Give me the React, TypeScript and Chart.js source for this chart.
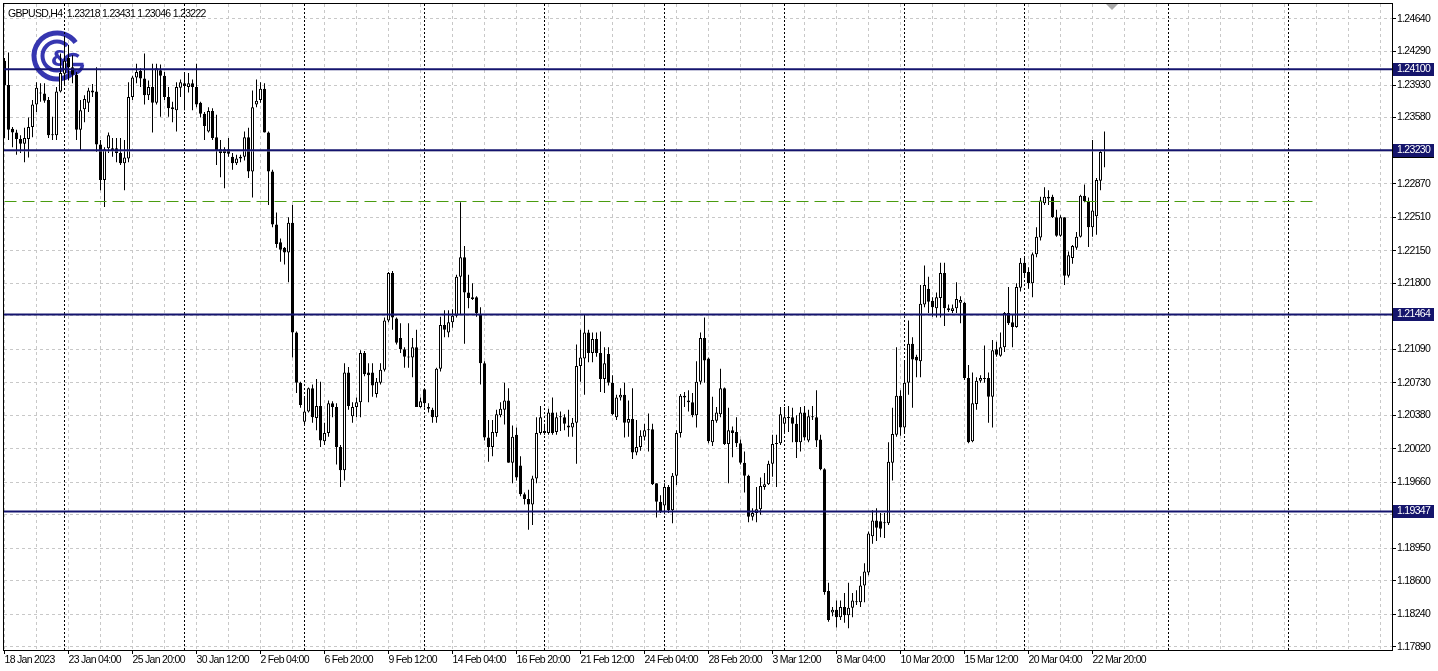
import React, { useEffect, useRef } from "react";
import { Chart, registerables } from "chart.js";

Chart.register(...registerables);

const W = 1438;
const H = 671;
const FONT = '"Liberation Sans", Arial, sans-serif';
const FONT_SIZE = 10.5;
const LETTER_SPACING = "-0.7px";

const headerText = "GBPUSD,H4  1.23218 1.23431 1.23046 1.23222";

const opens = [
1.2419,1.2393,1.2346,1.2342,1.2335,1.2330,1.2335,1.2348,1.2372,1.2385,
1.2384,1.2377,1.2340,1.2339,1.2386,1.2405,1.2422,1.2412,1.2404,1.2345,
1.2367,1.2374,1.2387,1.2386,1.2329,1.2291,1.2325,1.2325,1.2325,1.2320,
1.2309,1.2314,1.2380,1.2401,1.2408,1.2400,1.2382,1.2391,1.2374,1.2409,
1.2403,1.2380,1.2369,1.2366,1.2390,1.2395,1.2391,1.2395,1.2391,1.2374,
1.2362,1.2343,1.2365,1.2337,1.2324,1.2324,1.2324,1.2316,1.2309,1.2314,
1.2316,1.2337,1.2300,1.2372,1.2377,1.2389,1.2342,1.2300,1.2243,1.2224,
1.2218,1.2213,1.2245,1.2127,1.2073,1.2031,1.2042,1.2067,1.2035,1.2048,
1.2010,1.2019,1.2051,1.2047,1.2004,1.1979,1.2084,1.2037,1.2047,1.2052,
1.2105,1.2084,1.2084,1.2061,1.2073,1.2087,1.2140,1.2191,1.2142,1.2121,
1.2109,1.2101,1.2100,1.2111,1.2047,1.2066,1.2047,1.2044,1.2036,1.2088,
1.2135,1.2127,1.2138,1.2145,1.2187,1.2208,1.2170,1.2163,1.2165,1.2147,
1.2094,1.2014,1.2004,1.2019,1.2038,1.2044,1.2054,1.1987,1.2017,1.1984,
1.1953,1.1948,1.1942,1.1970,1.2019,1.2021,1.2019,1.2041,1.2020,1.2037,
1.2036,1.2027,1.2025,1.2030,1.2091,1.2099,1.2127,1.2105,1.2120,1.2105,
1.2077,1.2104,1.2073,1.2036,1.2057,1.2060,1.2030,1.2034,1.1998,1.2004,
1.2015,1.2023,1.2023,1.1965,1.1945,1.1941,1.1961,1.1936,1.1973,1.2019,
1.2059,1.2054,1.2052,1.2038,1.2074,1.2121,1.2099,1.2009,1.2032,1.2039,
1.2067,1.2007,1.2022,1.2020,1.2008,1.1987,1.1973,1.1929,1.1933,1.1937,
1.1961,1.1964,1.1986,1.2007,1.2008,1.2029,1.2035,1.2036,1.2029,1.2009,
1.2041,1.2011,1.2037,1.2036,1.2012,1.1980,1.1849,1.1826,1.1829,1.1821,
1.1832,1.1823,1.1831,1.1838,1.1837,1.1855,1.1869,1.1908,1.1925,1.1924,
1.1922,1.1922,1.1987,1.2017,1.2059,1.2025,1.2073,1.2115,1.2101,1.2096,
1.2157,1.2174,1.2161,1.2153,1.2164,1.2191,1.2153,1.2150,1.2153,1.2159,
1.2159,1.2078,1.2010,1.2050,1.2075,1.2078,1.2078,1.2058,1.2109,1.2102,
1.2111,1.2148,1.2138,1.2133,1.2175,1.2202,1.2192,1.2180,1.2211,1.2229,
1.2266,1.2271,1.2273,1.2251,1.2231,1.2251,1.2188,1.2207,1.2218,1.2230,
1.2274,1.2268,1.2240,1.2252,1.2290,1.23218
];

const highs = [
1.2422,1.2428,1.2348,1.2345,1.2339,1.2347,1.2358,1.2377,1.2396,1.2395,
1.2395,1.2380,1.2359,1.2391,1.2427,1.2444,1.2436,1.2425,1.2407,1.2377,
1.2382,1.2390,1.2394,1.2412,1.2334,1.2326,1.2342,1.2336,1.2336,1.2336,
1.2334,1.2396,1.2403,1.2416,1.2411,1.2427,1.2398,1.2416,1.2416,1.2415,
1.2407,1.2391,1.2375,1.2396,1.2399,1.2406,1.2406,1.2399,1.2416,1.2375,
1.2364,1.2369,1.2368,1.2361,1.2334,1.2326,1.2336,1.2320,1.2318,1.2318,
1.2343,1.2347,1.2387,1.2399,1.2396,1.2395,1.2343,1.2302,1.2256,1.2228,
1.2219,1.2251,1.2264,1.2128,1.2074,1.2057,1.2068,1.2071,1.2077,1.2074,
1.2030,1.2054,1.2053,1.2051,1.2006,1.2094,1.2090,1.2052,1.2057,1.2108,
1.2107,1.2094,1.2094,1.2078,1.2094,1.2143,1.2192,1.2193,1.2143,1.2137,
1.2111,1.2137,1.2121,1.2130,1.2057,1.2067,1.2051,1.2046,1.2089,1.2144,
1.2151,1.2151,1.2152,1.2189,1.2267,1.2220,1.2189,1.2180,1.2166,1.2154,
1.2096,1.2033,1.2033,1.2044,1.2052,1.2073,1.2067,1.2027,1.2025,1.1994,
1.1955,1.1958,1.1973,1.2036,1.2048,1.2029,1.2045,1.2057,1.2041,1.2042,
1.2039,1.2044,1.2035,1.2114,1.2130,1.2146,1.2130,1.2127,1.2127,1.2128,
1.2111,1.2111,1.2081,1.2060,1.2067,1.2073,1.2054,1.2067,1.2033,1.2022,
1.2029,1.2040,1.2029,1.1965,1.1952,1.1965,1.1963,1.1976,1.2022,1.2061,
1.2063,1.2065,1.2062,1.2096,1.2127,1.2143,1.2100,1.2058,1.2047,1.2088,
1.2068,1.2046,1.2026,1.2036,1.2012,1.1999,1.1974,1.1938,1.1961,1.1971,
1.1976,1.1989,1.2017,1.2017,1.2047,1.2047,1.2048,1.2046,1.2038,1.2047,
1.2048,1.2044,1.2048,1.2065,1.2017,1.1981,1.1858,1.1832,1.1839,1.1839,
1.1847,1.1858,1.1847,1.1850,1.1865,1.1879,1.1913,1.1936,1.1938,1.1933,
1.1933,1.2009,1.2046,1.2111,1.2065,1.2097,1.2140,1.2122,1.2103,1.2178,
1.2199,1.2187,1.2165,1.2170,1.2202,1.2202,1.2157,1.2157,1.2181,1.2166,
1.2160,1.2092,1.2084,1.2079,1.2081,1.2113,1.2084,1.2119,1.2117,1.2127,
1.2149,1.2176,1.2146,1.2180,1.2207,1.2209,1.2197,1.2213,1.2240,1.2273,
1.2283,1.2280,1.2275,1.2259,1.2253,1.2251,1.2214,1.2221,1.2235,1.2275,
1.2286,1.2272,1.2334,1.2293,1.2323,1.23431
];

const lows = [
1.2336,1.2334,1.2326,1.2318,1.2320,1.2310,1.2315,1.2337,1.2364,1.2375,
1.2374,1.2336,1.2334,1.2334,1.2385,1.2393,1.2398,1.2395,1.2334,1.2323,
1.2353,1.2364,1.2380,1.2321,1.2280,1.2262,1.2320,1.2316,1.2310,1.2307,
1.2280,1.2310,1.2377,1.2395,1.2391,1.2372,1.2377,1.2342,1.2372,1.2359,
1.2377,1.2359,1.2353,1.2343,1.2380,1.2366,1.2385,1.2366,1.2369,1.2358,
1.2334,1.2342,1.2334,1.2307,1.2294,1.2282,1.2316,1.2302,1.2307,1.2310,
1.2312,1.2293,1.2272,1.2369,1.2374,1.2342,1.2264,1.2240,1.2218,1.2203,
1.2200,1.2181,1.2100,1.2062,1.2046,1.2028,1.2041,1.2030,1.2022,1.2004,
1.2006,1.2015,1.2036,1.1985,1.1961,1.1968,1.2044,1.2030,1.2036,1.2036,
1.2080,1.2052,1.2058,1.2057,1.2071,1.2085,1.2138,1.2130,1.2114,1.2105,
1.2089,1.2089,1.2079,1.2047,1.2046,1.2046,1.2041,1.2030,1.2030,1.2085,
1.2122,1.2122,1.2132,1.2143,1.2146,1.2115,1.2153,1.2162,1.2144,1.2071,
1.2011,1.1988,1.1994,1.2015,1.2036,1.2028,1.1987,1.1965,1.1968,1.1951,
1.1942,1.1915,1.1920,1.1965,1.2017,1.2017,1.2017,1.2017,1.2017,1.2021,
1.2022,1.2015,1.2015,1.1986,1.2074,1.2060,1.2095,1.2095,1.2101,1.2063,
1.2062,1.2070,1.2038,1.2033,1.2054,1.2014,1.2015,1.1991,1.1995,1.2000,
1.2011,1.1999,1.1963,1.1928,1.1933,1.1933,1.1933,1.1922,1.1963,1.2014,
1.2047,1.2042,1.2036,1.2025,1.2071,1.2073,1.2008,1.2005,1.2030,1.2036,
1.2006,1.1965,1.1993,1.2004,1.1985,1.1955,1.1923,1.1925,1.1923,1.1931,
1.1958,1.1963,1.1972,1.1961,1.2006,1.2020,1.2020,1.2009,1.1992,1.1999,
1.2011,1.2009,1.2033,1.2004,1.1979,1.1845,1.1816,1.1822,1.1810,1.1818,
1.1815,1.1809,1.1821,1.1834,1.1832,1.1837,1.1866,1.1900,1.1903,1.1907,
1.1906,1.1920,1.1968,1.2015,1.2016,1.2020,1.2060,1.2046,1.2079,1.2079,
1.2154,1.2148,1.2144,1.2143,1.2143,1.2134,1.2149,1.2148,1.2148,1.2137,
1.2076,1.2008,1.2009,1.2044,1.2073,1.2073,1.2030,1.2025,1.2101,1.2101,
1.2106,1.2135,1.2111,1.2132,1.2171,1.2186,1.2174,1.2165,1.2208,1.2226,
1.2264,1.2264,1.2250,1.2230,1.2230,1.2178,1.2186,1.2201,1.2216,1.2229,
1.2267,1.2219,1.2230,1.2232,1.2280,1.23046
];

const closes = [
1.2393,1.2345,1.2342,1.2335,1.2330,1.2336,1.2348,1.2372,1.2390,1.2384,
1.2376,1.2339,1.2339,1.2386,1.2406,1.2419,1.2412,1.2404,1.2345,1.2366,
1.2378,1.2387,1.2385,1.2329,1.2291,1.2324,1.2339,1.2323,1.2320,1.2309,
1.2315,1.2380,1.2401,1.2407,1.2400,1.2382,1.2391,1.2374,1.2411,1.2403,
1.2380,1.2368,1.2367,1.2391,1.2396,1.2392,1.2395,1.2391,1.2372,1.2362,
1.2349,1.2365,1.2336,1.2323,1.2320,1.2320,1.2319,1.2309,1.2314,1.2316,
1.2337,1.2300,1.2369,1.2376,1.2389,1.2342,1.2300,1.2243,1.2222,1.2216,
1.2213,1.2245,1.2127,1.2073,1.2049,1.2042,1.2067,1.2036,1.2048,1.2011,
1.2019,1.2051,1.2047,1.2004,1.1979,1.2084,1.2048,1.2047,1.2052,1.2105,
1.2082,1.2081,1.2070,1.2074,1.2087,1.2140,1.2191,1.2143,1.2116,1.2109,
1.2101,1.2100,1.2111,1.2047,1.2053,1.2051,1.2045,1.2036,1.2088,1.2135,
1.2130,1.2138,1.2145,1.2187,1.2208,1.2170,1.2164,1.2165,1.2148,1.2094,
1.2014,1.2004,1.2020,1.2039,1.2045,1.2054,1.1987,1.2015,1.1971,1.1953,
1.1948,1.1942,1.1970,1.2019,1.2036,1.2019,1.2041,1.2019,1.2036,1.2036,
1.2029,1.2025,1.2030,1.2091,1.2100,1.2127,1.2105,1.2120,1.2105,1.2077,
1.2094,1.2073,1.2039,1.2057,1.2060,1.2030,1.2034,1.1998,1.2004,1.2016,
1.2022,1.2022,1.1964,1.1945,1.1934,1.1961,1.1936,1.1973,1.2019,1.2059,
1.2057,1.2052,1.2038,1.2074,1.2121,1.2097,1.2010,1.2033,1.2041,1.2067,
1.2007,1.2022,1.2019,1.2008,1.1987,1.1973,1.1929,1.1933,1.1937,1.1962,
1.1964,1.1986,1.2007,1.2008,1.2039,1.2036,1.2036,1.2029,1.2009,1.2041,
1.2014,1.2037,1.2036,1.2011,1.1980,1.1848,1.1818,1.1829,1.1821,1.1832,
1.1823,1.1831,1.1839,1.1837,1.1855,1.1870,1.1911,1.1925,1.1917,1.1916,
1.1923,1.1988,1.2018,1.2059,1.2025,1.2073,1.2115,1.2098,1.2097,1.2158,
1.2178,1.2160,1.2154,1.2165,1.2191,1.2153,1.2151,1.2153,1.2163,1.2162,
1.2078,1.2009,1.2051,1.2075,1.2078,1.2077,1.2058,1.2108,1.2103,1.2111,
1.2148,1.2137,1.2133,1.2176,1.2202,1.2191,1.2180,1.2211,1.2230,1.2269,
1.2273,1.2273,1.2251,1.2231,1.2251,1.2188,1.2210,1.2220,1.2230,1.2274,
1.2268,1.2240,1.2258,1.2291,1.2321,1.23222
];

const priceTicks = [
  1.2464, 1.2429, 1.2393, 1.2358, 1.2323, 1.2287, 1.2251, 1.2215, 1.218, 1.2145,
  1.2109, 1.2073, 1.2038, 1.2002, 1.1966, 1.1931, 1.1895, 1.186, 1.1824, 1.1789,
];

const timeTickIdx = [0, 16, 32, 48, 64, 80, 96, 112, 128, 144, 160, 176, 192, 208, 224, 240, 256, 272];
const timeTickLabels = [
  "18 Jan 2023", "23 Jan 04:00", "25 Jan 20:00", "30 Jan 12:00", "2 Feb 04:00", "6 Feb 20:00",
  "9 Feb 12:00", "14 Feb 04:00", "16 Feb 20:00", "21 Feb 12:00", "24 Feb 04:00", "28 Feb 20:00",
  "3 Mar 12:00", "8 Mar 04:00", "10 Mar 20:00", "15 Mar 12:00", "20 Mar 04:00", "22 Mar 20:00",
];
const gridStepBars = 8;
const weekStartIdx = [15, 45, 75, 105, 135, 165, 195, 225, 255, 291, 321];

const levelPrices = [1.241, 1.2323, 1.21464, 1.19347];
const trendPrice = 1.22678;
const trendStartIdx = 0;
const trendEndIdx = 327;
const bidPrice = 1.23222;

const X_MIN = -0.125;
const X_MAX = 346.875;
const Y_MIN = 1.17857;
const Y_MAX = 1.24801;

function drawLogo(ctx: CanvasRenderingContext2D) {
  ctx.save();
  const c = "#3636b0";
  ctx.strokeStyle = c;
  ctx.fillStyle = c;
  ctx.lineWidth = 5;
  ctx.beginPath();
  ctx.arc(57, 56, 23, 0.2 * Math.PI, 1.8 * Math.PI);
  ctx.stroke();
  ctx.lineWidth = 4;
  ctx.beginPath();
  ctx.arc(57, 56, 14.5, 0.25 * Math.PI, 1.75 * Math.PI);
  ctx.stroke();
  ctx.font = 'bold 22px "DejaVu Sans", sans-serif';
  ctx.textAlign = "center";
  ctx.textBaseline = "middle";
  ctx.fillText("&", 60, 60);
  ctx.lineWidth = 3.5;
  ctx.beginPath();
  ctx.arc(73, 64, 9.5, -0.3 * Math.PI, 0.02 * Math.PI, true);
  ctx.stroke();
  ctx.beginPath();
  ctx.moveTo(83.5, 64.5);
  ctx.lineTo(73, 64.5);
  ctx.stroke();
  ctx.restore();
}

const mtPlugin = {
  id: "mtDecor",
  beforeDraw(chart: any) {
    const ctx = chart.ctx;
    (ctx as any).letterSpacing = LETTER_SPACING;
    ctx.save();
    ctx.fillStyle = "#ffffff";
    ctx.fillRect(0, 0, chart.width, chart.height);
    ctx.restore();
  },
  beforeDatasetsDraw(chart: any) {
    const ctx = chart.ctx;
    const a = chart.chartArea;
    const x = chart.scales.x;
    drawLogo(ctx);
    ctx.save();
    ctx.strokeStyle = "#000000";
    ctx.lineWidth = 1;
    ctx.setLineDash([2, 2]);
    weekStartIdx.forEach((i) => {
      const px = Math.floor(x.getPixelForValue(i)) + 0.5;
      ctx.beginPath();
      ctx.moveTo(px, a.top);
      ctx.lineTo(px, a.bottom);
      ctx.stroke();
    });
    ctx.restore();
  },
  afterDraw(chart: any) {
    const ctx = chart.ctx;
    const a = chart.chartArea;
    const y = chart.scales.y;
    ctx.save();
    ctx.strokeStyle = "#000000";
    ctx.lineWidth = 1;
    ctx.setLineDash([]);
    ctx.strokeRect(a.left - 0.5, a.top - 0.5, a.right - a.left + 1, a.bottom - a.top + 1);
    ctx.fillStyle = "#000000";
    ctx.font = FONT_SIZE + "px " + FONT;
    ctx.textAlign = "left";
    ctx.textBaseline = "alphabetic";
    ctx.fillText(headerText, 8, 17);
    ctx.fillStyle = "#a8a8a8";
    ctx.beginPath();
    ctx.moveTo(1106, a.top);
    ctx.lineTo(1118, a.top);
    ctx.lineTo(1112, a.top + 6);
    ctx.closePath();
    ctx.fill();
    const drawBox = (price: number, bg: string, fg: string, text: string) => {
      const py = Math.round(y.getPixelForValue(price));
      ctx.fillStyle = bg;
      ctx.fillRect(a.right + 1, py - 6, 41, 13);
      ctx.fillStyle = fg;
      ctx.textBaseline = "middle";
      ctx.fillText(text, a.right + 5, py + 0.5);
    };
    drawBox(bidPrice, "#000000", "#ffffff", bidPrice.toFixed(5));
    levelPrices.forEach((p) => drawBox(p, "#15156c", "#ffffff", p.toFixed(5)));
    ctx.restore();
  },
};

export default function App() {
  const ref = useRef<HTMLCanvasElement | null>(null);

  useEffect(() => {
    const canvas = ref.current;
    if (!canvas) return;
    const idx = opens.map((_, i) => i);
    const bodies = idx.map((i) => ({ x: i, y: [opens[i], closes[i]] }));
    const wicks = idx.map((i) => ({
      x: i,
      y: [Math.min(lows[i], opens[i], closes[i]), Math.max(highs[i], opens[i], closes[i])],
    }));
    const bodyFill = idx.map((i) => (closes[i] >= opens[i] ? "#ffffff" : "#000000"));
    const hLine = (p: number, x0: number, x1: number) => [
      { x: x0, y: p },
      { x: x1, y: p },
    ];

    const xTicks: number[] = [];
    for (let v = 0; v <= X_MAX; v += gridStepBars) xTicks.push(v);

    const chart = new Chart(canvas, {
      type: "bar",
      data: {
        datasets: [
          {
            type: "bar",
            label: "wicks",
            data: wicks as any,
            backgroundColor: "#000000",
            borderWidth: 0,
            barThickness: 1,
            grouped: false,
            inflateAmount: 0,
            minBarLength: 1,
            order: 5,
          } as any,
          {
            type: "bar",
            label: "bodies",
            data: bodies as any,
            backgroundColor: bodyFill,
            borderColor: "#000000",
            borderWidth: 1,
            borderSkipped: false,
            barThickness: 3,
            grouped: false,
            inflateAmount: 0,
            minBarLength: 1,
            order: 4,
          } as any,
          {
            type: "line",
            label: "bid",
            data: hLine(bidPrice, X_MIN, X_MAX) as any,
            borderColor: "#c4c4c4",
            borderWidth: 1,
            pointRadius: 0,
            fill: false,
            order: 3,
          } as any,
          {
            type: "line",
            label: "trend",
            data: hLine(trendPrice, trendStartIdx, trendEndIdx) as any,
            borderColor: "#4a9c10",
            borderWidth: 1,
            borderDash: [12, 6],
            pointRadius: 0,
            fill: false,
            order: 2,
          } as any,
          ...levelPrices.map(
            (p) =>
              ({
                type: "line",
                label: "level " + p,
                data: hLine(p, X_MIN, X_MAX),
                borderColor: "#14146e",
                borderWidth: 2,
                pointRadius: 0,
                fill: false,
                order: 1,
              }) as any
          ),
        ],
      },
      options: {
        responsive: false,
        maintainAspectRatio: false,
        animation: false,
        devicePixelRatio: 1,
        events: [],
        layout: { padding: { left: 4, top: 4, right: 0, bottom: 0 } },
        plugins: { legend: { display: false }, tooltip: { enabled: false } },
        scales: {
          x: {
            type: "linear",
            min: X_MIN,
            max: X_MAX,
            offset: false,
            grid: {
              offset: false,
              color: "#c8c8c8",
              lineWidth: 1,
              drawTicks: true,
              tickLength: 4,
              tickWidth: 1,
              tickColor: (c: any) =>
                c.tick && timeTickIdx.includes(c.tick.value) ? "#000000" : "rgba(0,0,0,0)",
            },
            border: { display: false, dash: [3, 3] },
            ticks: {
              autoSkip: false,
              maxRotation: 0,
              minRotation: 0,
              align: "start",
              padding: 0,
              color: "#000000",
              font: { family: FONT, size: FONT_SIZE },
              callback: (v: any) => {
                const k = timeTickIdx.indexOf(Number(v));
                return k >= 0 ? timeTickLabels[k] : "";
              },
            },
            afterBuildTicks: (s: any) => {
              s.ticks = xTicks.map((v) => ({ value: v }));
            },
            afterFit: (s: any) => {
              s.height = 21;
              s.paddingLeft = 0;
              s.paddingRight = 0;
            },
          } as any,
          y: {
            type: "linear",
            position: "right",
            min: Y_MIN,
            max: Y_MAX,
            beginAtZero: false,
            grid: {
              color: "#c8c8c8",
              lineWidth: 1,
              drawTicks: true,
              tickLength: 4,
              tickColor: "#000000",
            },
            border: { display: false, dash: [3, 3] },
            ticks: {
              autoSkip: false,
              padding: 1,
              crossAlign: "near",
              color: "#000000",
              font: { family: FONT, size: FONT_SIZE },
              callback: (v: any) => Number(v).toFixed(5),
            },
            afterBuildTicks: (s: any) => {
              s.ticks = priceTicks.map((v) => ({ value: v }));
            },
            afterFit: (s: any) => {
              s.width = 46;
              s.paddingTop = 0;
              s.paddingBottom = 0;
            },
          } as any,
        },
      },
      plugins: [mtPlugin as any],
    });

    return () => {
      chart.destroy();
    };
  }, []);

  return (
    <div style={{ position: "fixed", left: 0, top: 0, width: W, height: H, background: "#fff" }}>
      <canvas ref={ref} width={W} height={H} style={{ display: "block", width: W, height: H }} />
    </div>
  );
}
